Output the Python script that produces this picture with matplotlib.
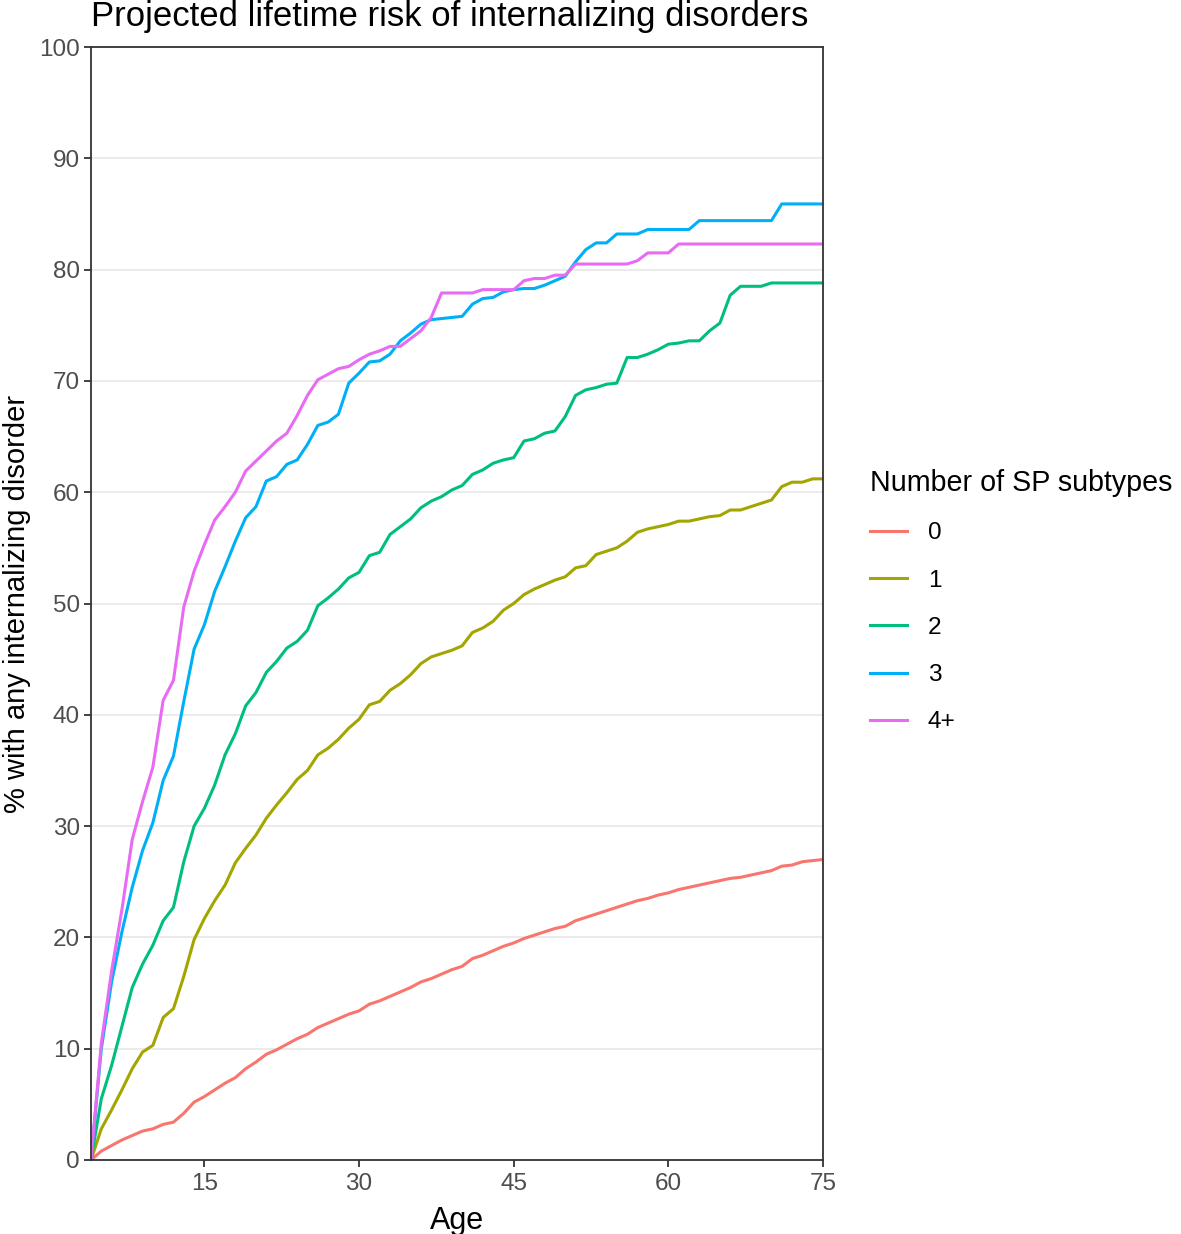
import matplotlib
matplotlib.use("Agg")
import matplotlib.pyplot as plt

plt.rcParams['font.family'] = ['Liberation Sans', 'DejaVu Sans']

ages = list(range(4, 76))

# % with any internalizing disorder, by age 4..75, for each number of SP subtypes
sp0 = [0, 0.8, 1.3, 1.8, 2.2, 2.6, 2.8, 3.2, 3.4, 4.2, 5.2, 5.7, 6.3, 6.9, 7.4, 8.2, 8.8, 9.5, 9.9, 10.4,
       10.9, 11.3, 11.9, 12.3, 12.7, 13.1, 13.4, 14.0, 14.3, 14.7, 15.1, 15.5, 16.0, 16.3, 16.7, 17.1, 17.4,
       18.1, 18.4, 18.8, 19.2, 19.5, 19.9, 20.2, 20.5, 20.8, 21.0, 21.5, 21.8, 22.1, 22.4, 22.7, 23.0, 23.3,
       23.5, 23.8, 24.0, 24.3, 24.5, 24.7, 24.9, 25.1, 25.3, 25.4, 25.6, 25.8, 26.0, 26.4, 26.5, 26.8, 26.9, 27.0]
sp1 = [0, 2.8, 4.5, 6.3, 8.2, 9.7, 10.3, 12.8, 13.6, 16.5, 19.8, 21.7, 23.3, 24.7, 26.7, 28.0, 29.2, 30.7,
       31.9, 33.0, 34.2, 35.0, 36.4, 37.0, 37.8, 38.8, 39.6, 40.9, 41.2, 42.2, 42.8, 43.6, 44.6, 45.2, 45.5,
       45.8, 46.2, 47.4, 47.8, 48.4, 49.4, 50.0, 50.8, 51.3, 51.7, 52.1, 52.4, 53.2, 53.4, 54.4, 54.7, 55.0,
       55.6, 56.4, 56.7, 56.9, 57.1, 57.4, 57.4, 57.6, 57.8, 57.9, 58.4, 58.4, 58.7, 59.0, 59.3, 60.5, 60.9,
       60.9, 61.2, 61.2]
sp2 = [0, 5.5, 8.5, 12.0, 15.5, 17.6, 19.3, 21.5, 22.7, 26.8, 30.0, 31.6, 33.7, 36.4, 38.3, 40.8, 42.0, 43.8,
       44.8, 46.0, 46.6, 47.6, 49.8, 50.5, 51.3, 52.3, 52.8, 54.3, 54.6, 56.2, 56.9, 57.6, 58.6, 59.2, 59.6,
       60.2, 60.6, 61.6, 62.0, 62.6, 62.9, 63.1, 64.6, 64.8, 65.3, 65.5, 66.8, 68.7, 69.2, 69.4, 69.7, 69.8,
       72.1, 72.1, 72.4, 72.8, 73.3, 73.4, 73.6, 73.6, 74.5, 75.2, 77.7, 78.5, 78.5, 78.5, 78.8, 78.8, 78.8,
       78.8, 78.8, 78.8]
sp3 = [0, 10.0, 16.0, 20.5, 24.5, 27.8, 30.3, 34.1, 36.3, 41.2, 45.9, 48.1, 51.1, 53.3, 55.6, 57.7, 58.7,
       61.0, 61.4, 62.5, 62.9, 64.3, 66.0, 66.3, 67.0, 69.8, 70.7, 71.7, 71.8, 72.4, 73.6, 74.3, 75.1, 75.5,
       75.6, 75.7, 75.8, 76.9, 77.4, 77.5, 78.0, 78.2, 78.3, 78.3, 78.6, 79.0, 79.4, 80.7, 81.8, 82.4, 82.4,
       83.2, 83.2, 83.2, 83.6, 83.6, 83.6, 83.6, 83.6, 84.4, 84.4, 84.4, 84.4, 84.4, 84.4, 84.4, 84.4, 85.9,
       85.9, 85.9, 85.9, 85.9]
sp4 = [0, 10.5, 17.0, 22.5, 28.8, 32.2, 35.3, 41.3, 43.1, 49.7, 52.9, 55.3, 57.5, 58.7, 60.0, 61.9, 62.8,
       63.7, 64.6, 65.3, 66.9, 68.7, 70.1, 70.6, 71.1, 71.3, 71.9, 72.4, 72.7, 73.1, 73.1, 73.8, 74.5, 75.7,
       77.9, 77.9, 77.9, 77.9, 78.2, 78.2, 78.2, 78.2, 79.0, 79.2, 79.2, 79.5, 79.5, 80.5, 80.5, 80.5, 80.5,
       80.5, 80.5, 80.8, 81.5, 81.5, 81.5, 82.3, 82.3, 82.3, 82.3, 82.3, 82.3, 82.3, 82.3, 82.3, 82.3, 82.3,
       82.3, 82.3, 82.3, 82.3]

groups = ['0', '1', '2', '3', '4+']
series = [sp0, sp1, sp2, sp3, sp4]
colors = ['#F8766D', '#A3A500', '#00BF7D', '#00B0F6', '#E76BF3']

fig = plt.figure(figsize=(11.81, 12.34), dpi=100)
ax = fig.add_axes([91/1181, 1 - 1160/1234, (823-91)/1181, (1160-47)/1234])

for vals, c, g in zip(series, colors, groups):
    ax.plot(ages, vals, color=c, linewidth=2.2, label=g)

ax.set_xlim(4, 75)
ax.set_ylim(0, 100)
ax.set_xticks([15, 30, 45, 60, 75])
ax.set_yticks(range(0, 101, 10))
ax.yaxis.grid(True, color='#EBEBEB', linewidth=1.4)
ax.set_axisbelow(True)
for s in ax.spines.values():
    s.set_color('#333333')
    s.set_linewidth(1.3)
ax.tick_params(axis='both', colors='#333333', labelcolor='#4D4D4D', labelsize=17.5, length=5, width=1.3)
ax.tick_params(axis='x', pad=4)
ax.tick_params(axis='y', pad=3)

ax.set_xlabel('Age', fontsize=22, labelpad=8)
ax.set_ylabel('% with any internalizing disorder', fontsize=21, labelpad=6)
ax.set_title('Projected lifetime risk of internalizing disorders', fontsize=25, loc='left', pad=15)

leg = ax.legend(title='Number of SP subtypes', loc='upper left',
                bbox_to_anchor=(858/1181, 1 - 457/1234), bbox_transform=fig.transFigure,
                frameon=False, fontsize=17.6, title_fontsize=20.6, handlelength=1.5, handletextpad=0.85,
                labelspacing=1.03, borderpad=0, alignment='left')
leg._legend_box.sep = 18

fig.savefig('out.png', dpi=100)
